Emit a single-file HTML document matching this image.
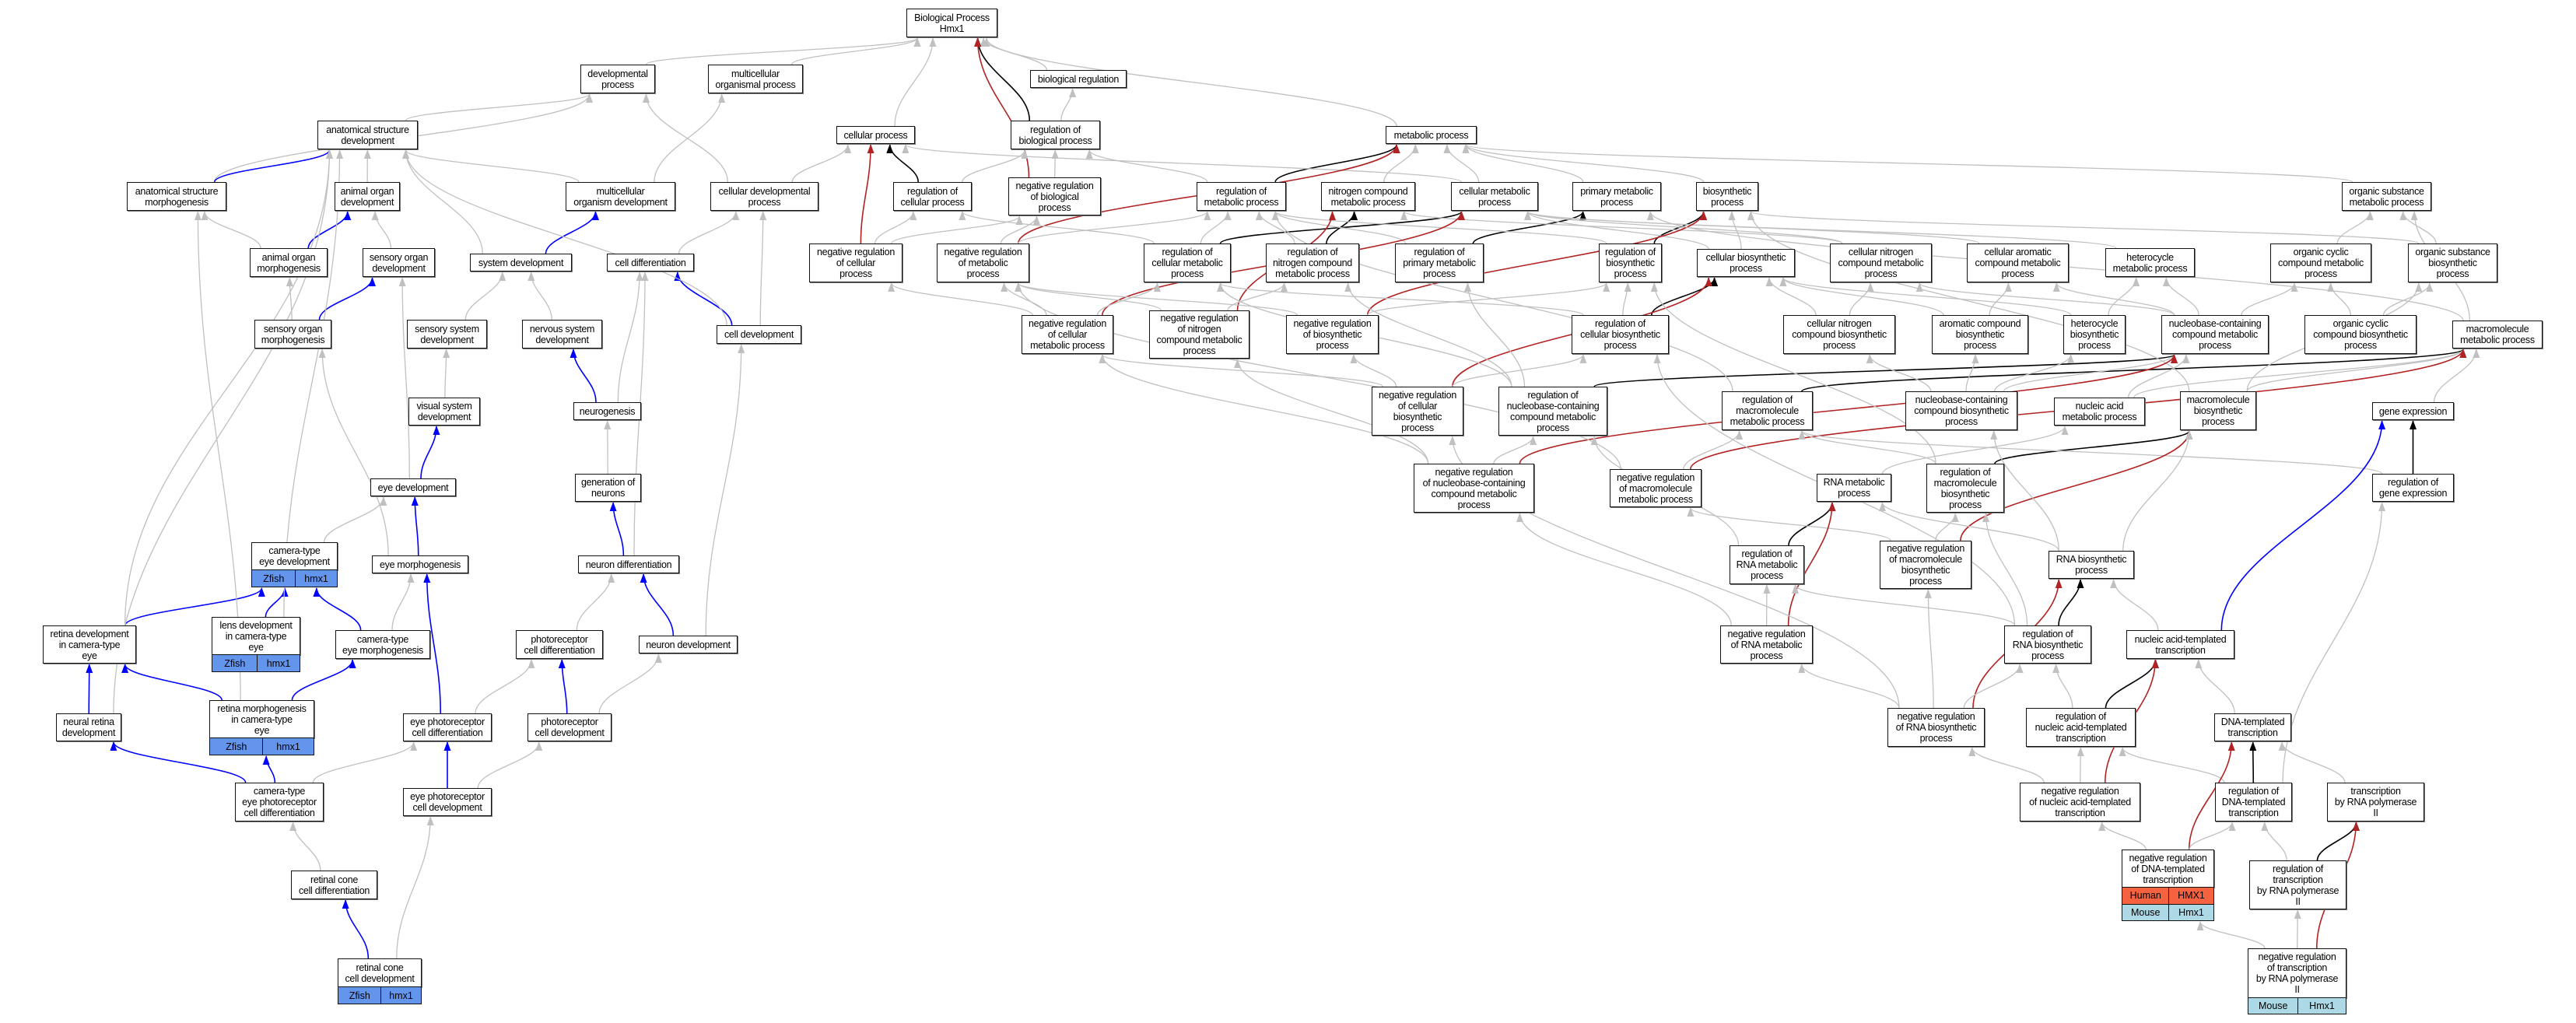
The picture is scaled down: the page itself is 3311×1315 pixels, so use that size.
<!DOCTYPE html>
<html><head><meta charset="utf-8">
<style>
html,body{margin:0;padding:0;background:#fff;}
#c{position:relative;width:3311px;height:1315px;overflow:hidden;background:#fff;font-family:"Liberation Sans",Arial,sans-serif;}
svg{position:absolute;left:0;top:0;}
.n{position:absolute;box-sizing:border-box;border:1.5px solid #111;background:#fff;display:flex;align-items:center;justify-content:center;text-align:center;font-size:12.5px;line-height:14px;color:#000;white-space:pre;letter-spacing:-0.3px;box-shadow:1px 1px 0 #777;}
.r{position:absolute;box-sizing:border-box;border:1.5px solid #111;display:flex;align-items:center;justify-content:center;font-size:12.5px;color:#000;}
</style></head><body>
<div id="c">
<svg id="s" width="3311" height="1315" xmlns="http://www.w3.org/2000/svg">
<defs>
<marker id="m_g" viewBox="0 0 12 9" refX="11" refY="4.5" markerWidth="12" markerHeight="9" markerUnits="userSpaceOnUse" orient="auto"><path d="M0,0L12,4.5L0,9z" fill="#c0c0c0"/></marker>
<marker id="m_b" viewBox="0 0 12 9" refX="11" refY="4.5" markerWidth="12" markerHeight="9" markerUnits="userSpaceOnUse" orient="auto"><path d="M0,0L12,4.5L0,9z" fill="#0000ff"/></marker>
<marker id="m_k" viewBox="0 0 12 9" refX="11" refY="4.5" markerWidth="12" markerHeight="9" markerUnits="userSpaceOnUse" orient="auto"><path d="M0,0L12,4.5L0,9z" fill="#000"/></marker>
<marker id="m_r" viewBox="0 0 12 9" refX="11" refY="4.5" markerWidth="12" markerHeight="9" markerUnits="userSpaceOnUse" orient="auto"><path d="M0,0L12,4.5L0,9z" fill="#b22222"/></marker>
</defs>
<g id="eg"></g>
</svg>
</div>
<script>
var Z=[["Zfish","hmx1","#6495ed"]];
var N={
BP:[1165,11,1282,48,"Biological Process\nHmx1"],
dev:[746,83,842,120,"developmental\nprocess"],
mop:[910,83,1032,120,"multicellular\norganismal process"],
asd:[408,155,537,192,"anatomical structure\ndevelopment"],
asm:[163,234,291,271,"anatomical structure\nmorphogenesis"],
aod:[430,234,514,271,"animal organ\ndevelopment"],
mod:[727,234,868,271,"multicellular\norganism development"],
cdp:[913,234,1052,271,"cellular developmental\nprocess"],
cd:[780,326,892,349,"cell differentiation"],
aom:[321,319,421,356,"animal organ\nmorphogenesis"],
sod:[466,319,559,356,"sensory organ\ndevelopment"],
sd:[604,326,735,349,"system development"],
som:[327,411,426,448,"sensory organ\nmorphogenesis"],
ssd:[523,411,626,448,"sensory system\ndevelopment"],
nsd:[671,411,774,448,"nervous system\ndevelopment"],
cdv:[921,418,1030,442,"cell development"],
vsd:[525,511,617,547,"visual system\ndevelopment"],
ng:[737,517,824,540,"neurogenesis"],
ed:[476,615,586,638,"eye development"],
gn:[739,609,824,645,"generation of\nneurons"],
ced:[323,697,434,755,"camera-type\neye development",Z,733,379],
em:[478,714,602,737,"eye morphogenesis"],
nd:[743,714,873,737,"neuron differentiation"],
rd:[55,804,175,853,"retina development\nin camera-type\neye"],
ld:[272,793,386,864,"lens development\nin camera-type\neye",Z,842,330],
cem:[431,810,553,847,"camera-type\neye morphogenesis"],
pcd:[663,810,775,847,"photoreceptor\ncell differentiation"],
ndv:[821,817,948,840,"neuron development"],
nrd:[72,917,156,953,"neural retina\ndevelopment"],
rm:[269,900,404,971,"retina morphogenesis\nin camera-type\neye",Z,949,337],
epd:[518,917,632,953,"eye photoreceptor\ncell differentiation"],
pcdv:[678,917,786,953,"photoreceptor\ncell development"],
cepd:[302,1006,416,1056,"camera-type\neye photoreceptor\ncell differentiation"],
epdv:[518,1013,632,1049,"eye photoreceptor\ncell development"],
rccd:[374,1119,485,1156,"retinal cone\ncell differentiation"],
rccdv:[434,1232,542,1291,"retinal cone\ncell development",Z,1269,489],
br:[1324,90,1448,113,"biological regulation"],
cp:[1075,162,1176,185,"cellular process"],
rbp:[1299,155,1414,192,"regulation of\nbiological process"],
mp:[1781,162,1898,185,"metabolic process"],
rcp:[1148,234,1249,271,"regulation of\ncellular process"],
nrbp:[1296,228,1415,277,"negative regulation\nof biological\nprocess"],
rmp:[1538,234,1653,271,"regulation of\nmetabolic process"],
ncmp:[1698,234,1819,271,"nitrogen compound\nmetabolic process"],
cmp:[1865,234,1977,271,"cellular metabolic\nprocess"],
pmp:[2021,234,2135,271,"primary metabolic\nprocess"],
bsp:[2180,234,2260,271,"biosynthetic\nprocess"],
osmp:[3010,234,3125,271,"organic substance\nmetabolic process"],
nrcp:[1040,313,1160,363,"negative regulation\nof cellular\nprocess"],
nrmp:[1204,313,1323,363,"negative regulation\nof metabolic\nprocess"],
rcmp:[1470,313,1582,363,"regulation of\ncellular metabolic\nprocess"],
rncmp:[1627,313,1747,363,"regulation of\nnitrogen compound\nmetabolic process"],
rpmp:[1793,313,1907,363,"regulation of\nprimary metabolic\nprocess"],
rbsp:[2055,313,2136,363,"regulation of\nbiosynthetic\nprocess"],
cbp:[2181,320,2307,356,"cellular biosynthetic\nprocess"],
cncmp:[2352,313,2483,363,"cellular nitrogen\ncompound metabolic\nprocess"],
cacmp:[2528,313,2659,363,"cellular aromatic\ncompound metabolic\nprocess"],
hmp:[2706,319,2821,356,"heterocycle\nmetabolic process"],
occmp:[2918,313,3048,363,"organic cyclic\ncompound metabolic\nprocess"],
osbp:[3095,313,3210,363,"organic substance\nbiosynthetic\nprocess"],
nrcmp:[1313,405,1431,455,"negative regulation\nof cellular\nmetabolic process"],
nrncmp:[1477,399,1606,461,"negative regulation\nof nitrogen\ncompound metabolic\nprocess"],
nrbsp:[1653,405,1772,455,"negative regulation\nof biosynthetic\nprocess"],
rcbp:[2020,405,2145,455,"regulation of\ncellular biosynthetic\nprocess"],
cncbp:[2292,405,2436,455,"cellular nitrogen\ncompound biosynthetic\nprocess"],
acbp:[2483,405,2607,455,"aromatic compound\nbiosynthetic\nprocess"],
hbp:[2652,405,2732,455,"heterocycle\nbiosynthetic\nprocess"],
nbmp:[2778,405,2916,455,"nucleobase-containing\ncompound metabolic\nprocess"],
occbp:[2962,405,3106,455,"organic cyclic\ncompound biosynthetic\nprocess"],
mmp:[3152,412,3268,448,"macromolecule\nmetabolic process"],
nrcbp:[1763,497,1881,560,"negative regulation\nof cellular\nbiosynthetic\nprocess"],
rnbmp:[1926,497,2066,560,"regulation of\nnucleobase-containing\ncompound metabolic\nprocess"],
rmmp:[2213,503,2330,553,"regulation of\nmacromolecule\nmetabolic process"],
nbbp:[2449,503,2593,553,"nucleobase-containing\ncompound biosynthetic\nprocess"],
namp:[2640,511,2757,547,"nucleic acid\nmetabolic process"],
mbp:[2802,503,2900,553,"macromolecule\nbiosynthetic\nprocess"],
ge:[3049,517,3154,540,"gene expression"],
nrnbmp:[1817,596,1972,659,"negative regulation\nof nucleobase-containing\ncompound metabolic\nprocess"],
nrmmp:[2069,603,2187,652,"negative regulation\nof macromolecule\nmetabolic process"],
rnamp:[2335,609,2431,645,"RNA metabolic\nprocess"],
rmbp:[2476,596,2576,659,"regulation of\nmacromolecule\nbiosynthetic\nprocess"],
rge:[3049,609,3154,645,"regulation of\ngene expression"],
rrnamp:[2223,701,2319,751,"regulation of\nRNA metabolic\nprocess"],
nrmbp:[2416,695,2534,757,"negative regulation\nof macromolecule\nbiosynthetic\nprocess"],
rnabp:[2633,708,2743,744,"RNA biosynthetic\nprocess"],
nrrnamp:[2211,804,2330,853,"negative regulation\nof RNA metabolic\nprocess"],
rrnabp:[2576,804,2688,853,"regulation of\nRNA biosynthetic\nprocess"],
natt:[2733,810,2872,847,"nucleic acid-templated\ntranscription"],
nrrnabp:[2426,910,2551,960,"negative regulation\nof RNA biosynthetic\nprocess"],
rnatt:[2604,910,2745,960,"regulation of\nnucleic acid-templated\ntranscription"],
dtt:[2846,917,2945,953,"DNA-templated\ntranscription"],
nrnatt:[2596,1006,2751,1056,"negative regulation\nof nucleic acid-templated\ntranscription"],
rdtt:[2847,1006,2946,1056,"regulation of\nDNA-templated\ntranscription"],
tp2:[2991,1006,3116,1056,"transcription\nby RNA polymerase\nII"],
nrdtt:[2727,1092,2846,1184,"negative regulation\nof DNA-templated\ntranscription",[["Human","HMX1","#f4623f"],["Mouse","Hmx1","#add8e6"]],1141,2787],
rtp2:[2891,1106,3016,1169,"regulation of\ntranscription\nby RNA polymerase\nII"],
nrtp2:[2889,1219,3016,1304,"negative regulation\nof transcription\nby RNA polymerase\nII",[["Mouse","Hmx1","#add8e6"]],1283,2953]
};
var E=`dev BP g;mop BP g;asd dev g;asm dev g;asm asd b;aod asd g;mod asd g;mod mop g;cdp dev g;cdp cp g;aom asm g;aom aod b;sod aod g;sd asd g;sd mod b;cd cdp g;som aom g;som sod b;ssd sd g;nsd sd g;cdv cd b;cdv cdp g;cdv asd g;vsd ssd g;ng nsd b;ng cd g;ed vsd b;ed sod g;gn ng g;ced ed g;em ed b;em som g;nd gn b;nd cd g;rd ced b;rd asd g;ld ced b;ld asd g;cem ced b;cem em g;pcd nd g;ndv nd b;ndv cdv g;nrd rd b;nrd asd g;rm rd b;rm cem b;rm asm g;epd em b;epd pcd g;pcdv pcd b;pcdv ndv g;cepd nrd b;cepd rm b;cepd epd g;epdv epd b;epdv pcdv g;rccd cepd g;rccdv rccd b;rccdv epdv g;br BP g;cp BP g;rbp BP k;rbp br g;nrbp BP r;nrbp rbp g;mp BP g;rcp cp k;rcp rbp g;nrcp cp r;nrcp rcp g;nrcp nrbp g;rmp mp k;rmp rbp g;ncmp mp g;cmp mp g;cmp cp g;pmp mp g;bsp mp g;osmp mp g;nrmp mp r;nrmp rmp g;nrmp nrbp g;rcmp cmp k;rcmp rmp g;rcmp rcp g;rncmp ncmp k;rncmp rmp g;rpmp pmp k;rpmp rmp g;rbsp bsp k;rbsp rmp g;cbp bsp g;cbp cmp g;cncmp cmp g;cncmp ncmp g;cacmp cmp g;hmp cmp g;occmp osmp g;osbp osmp g;osbp bsp g;nrcmp cmp r;nrcmp nrmp g;nrcmp rcmp g;nrcmp nrcp g;nrncmp ncmp r;nrncmp rncmp g;nrncmp nrmp g;nrbsp bsp r;nrbsp nrmp g;nrbsp rbsp g;rcbp cbp k;rcbp rbsp g;rcbp rcmp g;cncbp cbp g;cncbp cncmp g;acbp cacmp g;acbp cbp g;hbp hmp g;hbp cbp g;nbmp hmp g;nbmp cacmp g;nbmp occmp g;nbmp cncmp g;occbp occmp g;occbp osbp g;mmp osmp g;mmp pmp g;nrcbp cbp r;nrcbp nrbsp g;nrcbp rcbp g;nrcbp nrcmp g;rnbmp nbmp k;rnbmp rcmp g;rnbmp rncmp g;rnbmp rpmp g;rmmp mmp k;rmmp rmp g;nbbp nbmp g;nbbp acbp g;nbbp hbp g;nbbp cncbp g;namp nbmp g;namp mmp g;mbp mmp g;mbp bsp g;mbp osbp g;ge mmp g;nrnbmp nbmp r;nrnbmp rnbmp g;nrnbmp nrcmp g;nrnbmp nrncmp g;nrmmp mmp r;nrmmp rmmp g;nrmmp nrmp g;rnamp namp g;rmbp mbp k;rmbp rmmp g;rmbp rbsp g;rge ge k;rge rmmp g;rrnamp rnamp k;rrnamp rnbmp g;nrmbp mbp r;nrmbp rmbp g;nrmbp nrmmp g;rnabp rnamp g;rnabp nbbp g;rnabp mbp g;nrrnamp rnamp r;nrrnamp rrnamp g;nrrnamp nrnbmp g;rrnabp rnabp k;rrnabp rrnamp g;rrnabp rmbp g;rrnabp rcbp g;natt ge b;natt rnabp g;nrrnabp rnabp r;nrrnabp rrnabp g;nrrnabp nrrnamp g;nrrnabp nrmbp g;nrrnabp nrcbp g;rnatt natt k;rnatt rrnabp g;dtt natt g;nrnatt natt r;nrnatt rnatt g;nrnatt nrrnabp g;rdtt dtt k;rdtt rnatt g;rdtt rge g;tp2 dtt g;nrdtt dtt r;nrdtt nrnatt g;nrdtt rdtt g;rtp2 tp2 k;rtp2 rdtt g;nrtp2 tp2 r;nrtp2 rtp2 g;nrtp2 nrdtt g`;
var C={g:"#c0c0c0",b:"#0000ff",k:"#000000",r:"#b22222"};
var c=document.getElementById("c");
function cl(v,a){return Math.max(-a,Math.min(a,v));}
var eg=document.getElementById("eg");var html="";
E.split(";").forEach(function(s){var p=s.trim().split(" ");var a=N[p[0]],b=N[p[1]];if(!a||!b)return;
var acx=(a[0]+a[2])/2,bcx=(b[0]+b[2])/2,aw=a[2]-a[0],bw=b[2]-b[0];
var sx=acx+cl((bcx-acx)*0.25,aw*0.38),sy=a[1];
var tx=bcx+cl((acx-bcx)*0.25,bw*0.38),ty=b[3]+1;
var dy=sy-ty;
var w=p[2]=="g"?1.3:1.6;
html+='<path d="M'+sx+','+sy+' C'+sx+','+(sy-dy*0.4)+' '+tx+','+(ty+dy*0.4)+' '+tx+','+ty+'" fill="none" stroke="'+C[p[2]]+'" stroke-width="'+w+'" marker-end="url(#m_'+p[2]+')"/>';
});
eg.innerHTML=html;
for(var k in N){var n=N[k];var lb=n[6]||n[3];
var d=document.createElement("div");d.className="n";
d.style.left=n[0]+"px";d.style.top=n[1]+"px";d.style.width=(n[2]-n[0])+"px";d.style.height=(lb-n[1])+"px";
d.textContent=n[4];c.appendChild(d);
if(n[5]){var rows=n[5],rh=(n[3]-lb)/rows.length;
rows.forEach(function(r,i){[[n[0],n[7],r[0]],[n[7],n[2],r[1]]].forEach(function(q){
var e=document.createElement("div");e.className="r";e.style.left=q[0]+"px";e.style.top=(lb+i*rh-1)+"px";
e.style.width=(q[1]-q[0]+(q[1]==n[7]?1.5:0))+"px";e.style.height=(rh+1)+"px";e.style.background=r[2];e.textContent=q[2];c.appendChild(e);});});}
}
</script>
</body></html>
